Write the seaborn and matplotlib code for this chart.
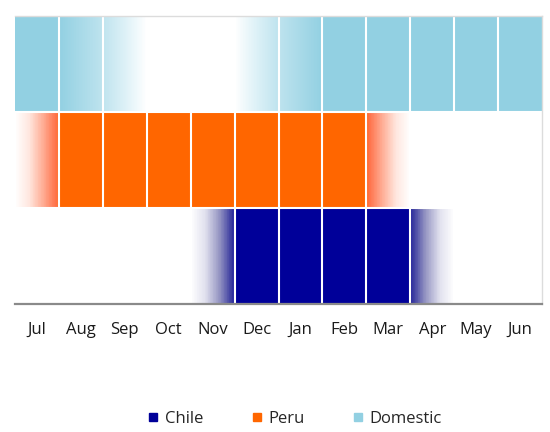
import numpy as np
import pandas as pd
import matplotlib
matplotlib.use("Agg")
import matplotlib.pyplot as plt
import seaborn as sns
from matplotlib.colors import LinearSegmentedColormap
from matplotlib.lines import Line2D

# Season calendar: intensity at the left / right edge of each month cell
months = ["Jul", "Aug", "Sep", "Oct", "Nov", "Dec",
          "Jan", "Feb", "Mar", "Apr", "May", "Jun"]
series = ["Domestic", "Peru", "Chile"]          # rows, top to bottom
legend_order = ["Chile", "Peru", "Domestic"]

domestic_start = [1.0, 1.0, 0.6, 0.0, 0.0, 0.0, 0.6, 1.0, 1.0, 1.0, 1.0, 1.0]
domestic_end   = [1.0, 0.6, 0.0, 0.0, 0.0, 0.6, 1.0, 1.0, 1.0, 1.0, 1.0, 1.0]
peru_start     = [0.0, 1.0, 1.0, 1.0, 1.0, 1.0, 1.0, 1.0, 0.92, 0.0, 0.0, 0.0]
peru_end       = [0.92, 1.0, 1.0, 1.0, 1.0, 1.0, 1.0, 1.0, 0.0, 0.0, 0.0, 0.0]
chile_start    = [0.0, 0.0, 0.0, 0.0, 0.0, 1.0, 1.0, 1.0, 1.0, 0.92, 0.0, 0.0]
chile_end      = [0.0, 0.0, 0.0, 0.0, 0.92, 1.0, 1.0, 1.0, 1.0, 0.0, 0.0, 0.0]

colors = {"Chile": "#000099", "Peru": "#ff6600", "Domestic": "#92d0e2"}

cmaps = {
    "Domestic": LinearSegmentedColormap.from_list(
        "dom", [(0, "#ffffff"), (0.25, "#e2f3f8"), (0.6, "#bee3ee"), (1, "#92d0e2")]),
    "Peru": LinearSegmentedColormap.from_list(
        "peru", [(0, "#ffffff"), (0.3, "#ffe6de"), (0.6, "#ffaa91"),
                 (0.85, "#ff734b"), (1, "#ff6600")]),
    "Chile": LinearSegmentedColormap.from_list(
        "chile", [(0, "#ffffff"), (0.3, "#e1e1ee"), (0.6, "#9696c3"),
                  (0.85, "#3c3ca0"), (1, "#000099")]),
}

STEPS = 60  # horizontal sub-steps per month, used to draw the fades


def ramp(start, end):
    parts = [np.linspace(s, e, 2 * STEPS + 1)[1::2] for s, e in zip(start, end)]
    return np.concatenate(parts)


grid = pd.DataFrame(
    np.vstack([ramp(domestic_start, domestic_end),
               ramp(peru_start, peru_end),
               ramp(chile_start, chile_end)]),
    index=series,
)

sns.set_theme(style="white")
plt.rcParams["font.family"] = ["Open Sans", "DejaVu Sans"]

fig = plt.figure(figsize=(5.5, 4.32), dpi=100)
ax = fig.add_axes([15 / 550, 128 / 432, 527 / 550, 288 / 432])

for i, name in enumerate(series):
    mask = np.ones(grid.shape, dtype=bool)
    mask[i] = False
    sns.heatmap(grid, mask=mask, cmap=cmaps[name], vmin=0, vmax=1, cbar=False,
                ax=ax, xticklabels=False, yticklabels=False)

# white separators between month cells and rows
for k in range(1, 12):
    ax.axvline(k * STEPS, color="white", lw=1.5)
for r in range(1, 3):
    ax.axhline(r, color="white", lw=1.5)

ax.set_xticks((np.arange(12) + 0.5) * STEPS)
ax.set_xticklabels(months, fontsize=12, color="#1a1a1a", rotation=0)
ax.set_yticks([])
ax.tick_params(axis="x", length=0, pad=13)
ax.set_xlabel("")
ax.set_ylabel("")

for side in ["top", "right"]:
    ax.spines[side].set_visible(True)
    ax.spines[side].set_color("#dcdcdc")
    ax.spines[side].set_linewidth(1)
ax.spines["bottom"].set_visible(True)
ax.spines["bottom"].set_color("#8a8a8a")
ax.spines["bottom"].set_linewidth(1.6)
ax.spines["left"].set_visible(False)

handles = [Line2D([], [], marker="s", linestyle="", color=colors[n],
                  markersize=6) for n in legend_order]
fig.legend(handles, legend_order, loc="center", ncol=3,
           bbox_to_anchor=(295 / 550, 13 / 432), frameon=False, fontsize=12,
           handlelength=0.6, handletextpad=0.4, columnspacing=2.9,
           borderaxespad=0)

fig.savefig("out.png", dpi=100)
